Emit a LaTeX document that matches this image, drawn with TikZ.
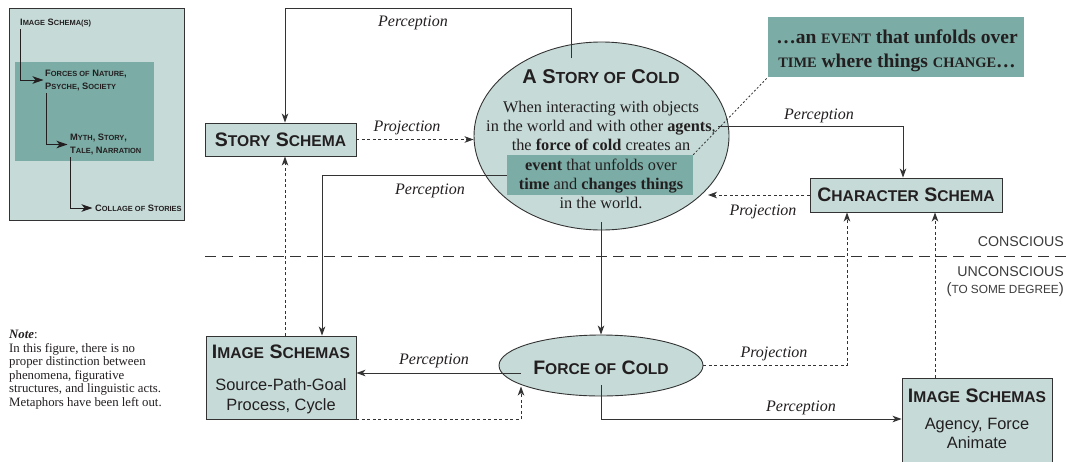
\documentclass[tikz,border=0pt]{standalone}
\usepackage{fontspec}
\setmainfont{Liberation Serif}
\setsansfont{Liberation Sans}
\usetikzlibrary{arrows.meta,shapes.geometric}
\makeatletter
\newcommand\fsc[1]{{\fontsize{\fpeval{0.8*\f@size}}{\fpeval{1.2*\f@size}}\selectfont #1}}
\newcommand\fscs[1]{{\fontsize{\fpeval{0.74*\f@size}}{\fpeval{1.2*\f@size}}\selectfont #1}}
\makeatother
\newcommand\fs[1]{\fontsize{#1}{#1}\selectfont}
\definecolor{lfill}{HTML}{C6DBD8}
\definecolor{dfill}{HTML}{7BACA5}
\definecolor{lc}{HTML}{333333}
\definecolor{tc}{HTML}{231F20}
\definecolor{gc}{HTML}{3C3C3C}
\tikzset{
  ln/.style={draw=lc, line width=0.9pt},
  arr/.style={ln, -{Stealth[length=9pt,width=6.5pt,inset=2.5pt]}},
  darr/.style={arr, dash pattern=on 3pt off 2.5pt},
  parr/.style={draw=tc, line width=1pt, -{Stealth[length=11pt,width=7.5pt,inset=3pt]}},
  dotl/.style={draw=lc, line width=0.8pt, dash pattern=on 2pt off 2pt},
  cdash/.style={draw=lc, line width=0.9pt, dash pattern=on 11pt off 6pt},
  box/.style={rectangle, draw=lc, fill=lfill, line width=0.9pt, inner sep=0pt},
  ell/.style={ellipse, draw=lc, fill=lfill, line width=0.9pt, inner sep=0pt},
  hbox/.style={rectangle, fill=dfill, inner sep=0pt},
  ptext/.style={anchor=base west, inner sep=0pt, font=\sffamily\bfseries\fs{9.3}, text=tc},
  ttl/.style={anchor=base, inner sep=0pt, font=\sffamily\bfseries\fs{19.5}, text=tc},
  sub/.style={anchor=base, inner sep=0pt, font=\sffamily\fs{16.4}, text=tc},
  body/.style={anchor=base, inner sep=0pt, font=\fs{16.3}, text=tc},
  calt/.style={anchor=base, inner sep=0pt, font=\bfseries\fs{19.5}, text=tc},
  lbl/.style={anchor=base, inner sep=0pt, font=\itshape\fs{16}, text=tc},
  note/.style={anchor=base west, inner sep=0pt, font=\fs{12.8}, text=tc},
  cons/.style={anchor=base east, inner sep=0pt, font=\sffamily\fs{14.2}, text=gc},
}
\begin{document}
\begin{tikzpicture}[x=1pt,y=-1pt]
\useasboundingbox (0,0) rectangle (1067,461);
\clip (0,0) rectangle (1067,461);
\fill[white] (0,0) rectangle (1067,461);

% ---------- left panel ----------
\node[box, line width=0.8pt, minimum width=175pt, minimum height=212pt, anchor=north west] (panel) at (9,8) {};
\node[hbox, minimum width=139pt, minimum height=99pt, anchor=north west] (pinner) at (15,62) {};
\node[ptext] (t1) at (20,25.5) {I\fsc{MAGE} S\fsc{CHEMA(S)}};
\node[ptext] (t2a) at (45,76) {F\fsc{ORCES OF} N\fsc{ATURE},};
\node[ptext] (t2b) at (45,89) {P\fsc{SYCHE}, S\fsc{OCIETY}};
\node[ptext] (t3a) at (70,140) {M\fsc{YTH}, S\fsc{TORY},};
\node[ptext] (t3b) at (70,153) {T\fsc{ALE}, N\fsc{ARRATION}};
\node[ptext] (t4) at (95,211) {C\fsc{OLLAGE OF} S\fsc{TORIES}};
\coordinate (a1s) at (20,29);  \coordinate (a1e) at (43.5,80);
\coordinate (a2s) at (46,93);  \coordinate (a2e) at (67.5,144.5);
\coordinate (a3s) at (70.5,157); \coordinate (a3e) at (92.5,208);
\draw[parr] (a1s) |- (a1e);
\draw[parr] (a2s) |- (a2e);
\draw[parr] (a3s) |- (a3e);

% ---------- note ----------
\node[note] (n0) at (9,338) {\textbf{\textit{Note}}:};
\node[note] (n1) at (9,352) {In this figure, there is no};
\node[note] (n2) at (9,365.5) {proper distinction between};
\node[note] (n3) at (9,379) {phenomena, figurative};
\node[note] (n4) at (9,392.5) {structures, and linguistic acts.};
\node[note] (n5) at (9,406) {Metaphors have been left out.};

% ---------- story ellipse ----------
\node[ell, minimum width=255pt, minimum height=188pt] (story) at (601.5,136) {};
\node[hbox, minimum width=186pt, minimum height=40pt] (hl) at (600,175) {};
\node[ttl, font=\sffamily\bfseries\fs{20}] (storyT) at (601,83) {A S\fsc{TORY OF} C\fsc{OLD}};
\node[body] (b1) at (601,112) {When interacting with objects};
\node[body] (b2) at (601,131) {in the world and with other \textbf{agents},};
\node[body] (b3) at (601,150) {the \textbf{force of cold} creates an};
\node[body] (b4) at (601,170) {\textbf{event} that unfolds over};
\node[body] (b5) at (601,189) {\textbf{time} and \textbf{changes things}};
\node[body] (b6) at (601,208) {in the world.};

% ---------- callout ----------
\node[hbox, minimum width=256pt, minimum height=60pt] (callout) at (896,47) {};
\node[calt] (c1) at (897,43) {…an \fscs{EVENT} that unfolds over};
\node[calt] (c2) at (897,67) {\fscs{TIME} where things \fscs{CHANGE}…};

% ---------- boxes ----------
\node[box, minimum width=151pt, minimum height=33pt] (ssch) at (280.5,139.5) {};
\node[ttl] (sschT) at (280.5,146.5) {S\fsc{TORY} S\fsc{CHEMA}};
\node[box, minimum width=192pt, minimum height=34pt] (csch) at (906,195) {};
\node[ttl] (cschT) at (906,201.5) {C\fsc{HARACTER} S\fsc{CHEMA}};
\node[box, minimum width=150pt, minimum height=83pt] (isl) at (281,377.5) {};
\node[ttl] (islT) at (281,358) {I\fsc{MAGE} S\fsc{CHEMAS}};
\node[sub] (isl1) at (281,390.5) {Source-Path-Goal};
\node[sub] (isl2) at (281,410.5) {Process, Cycle};
\node[box, minimum width=150pt, minimum height=92pt] (isr) at (977,424) {};
\node[ttl] (isrT) at (977,402) {I\fsc{MAGE} S\fsc{CHEMAS}};
\node[sub] (isr1) at (977,429) {Agency, Force};
\node[sub] (isr2) at (977,448) {Animate};
\node[ell, minimum width=204pt, minimum height=61pt] (force) at (601,365.5) {};
\node[ttl] (forceT) at (601,374) {F\fsc{ORCE OF} C\fsc{OLD}};

% ---------- conscious line ----------
\coordinate (cl1) at (205,256);
\coordinate (cl2) at (1067,256);
\draw[cdash] (cl1) -- (cl2);
\node[cons] (k1) at (1064,246) {CONSCIOUS};
\node[cons] (k2) at (1064,276) {UNCONSCIOUS};
\node[cons, font=\sffamily\fs{15}] (k3) at (1064,293) {({\fs{11.8}TO SOME DEGREE})};

% ---------- connectors ----------
\coordinate (sTop) at (571,58);
\coordinate (corner1) at (285,8);
\draw[arr] (sTop) |- (corner1) -- (corner1 |- ssch.north);
\draw[darr] (ssch.east) -- (ssch.east -| story.west);
\coordinate (sR) at (718,126);
\draw[arr] (sR) -| (903,0 |- csch.north);
\draw[darr] (csch.west) -- (708,0 |- csch.west);
\draw[arr] (hl.west) -| (322,0 |- isl.north);
\coordinate (sBot) at (601,222);
\draw[arr] (sBot) -- (sBot |- force.north);
\draw[darr] (285,0 |- isl.north) -- (285,0 |- ssch.south);
\coordinate (fL) at (521,373);
\draw[arr] (fL) -- (fL -| isl.east);
\coordinate (fB) at (521,386.5);
\draw[darr] (isl.south east) -| (fB);
\draw[darr] (force.east) -| (847,0 |- csch.south);
\coordinate (fM) at (601,385);
\draw[arr] (fM) |- (isr.west |- 0,419);
\draw[darr] (935,0 |- isr.north) -- (935,0 |- csch.south);
\draw[dotl] (hl.north east) -- (callout.south west);

% ---------- labels ----------
\node[lbl] (p1) at (413,26) {Perception};
\node[lbl] (p2) at (407,131) {Projection};
\node[lbl] (p3) at (430,194) {Perception};
\node[lbl] (p4) at (819,119) {Perception};
\node[lbl] (p5) at (763,215) {Projection};
\node[lbl] (p6) at (434,364) {Perception};
\node[lbl] (p7) at (774,357) {Projection};
\node[lbl] (p8) at (801,411) {Perception};
\end{tikzpicture}
\end{document}
